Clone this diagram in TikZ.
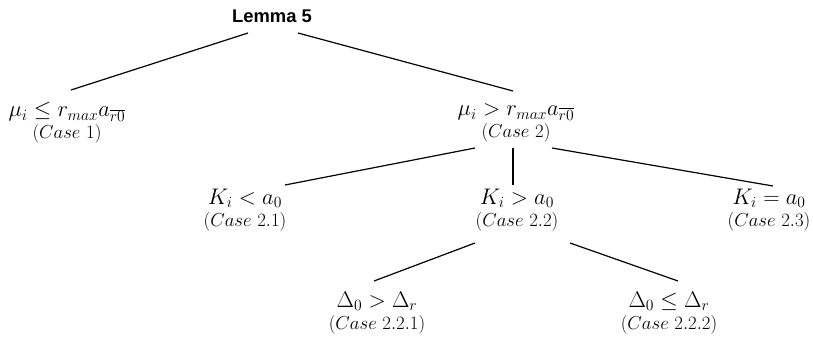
\documentclass[tikz,border=0pt]{standalone}
\usepackage{fontspec}
\newfontfamily\lemmafont{Liberation Sans}
\usetikzlibrary{calc}
\tikzset{
  casenode/.style={align=center, inner sep=0pt, font=\huge},
  edge/.style={line width=1.1pt},
}
\newcommand{\casetxt}[1]{{\LARGE$(#1)$}}
\begin{document}
\begin{tikzpicture}[x=0.92pt,y=-0.92pt]
\useasboundingbox (0,0) rectangle (813,337);
\node[inner sep=0pt, font=\lemmafont\bfseries\fontsize{16.9}{17}\selectfont] (lemma) at (272,16) {Lemma 5};
\node[casenode] (c1) at (67,123) {$\mu_i \le r_{max}a_{\overline{r0}}$\\[-5pt]\casetxt{Case\ 1}};
\node[casenode] (c2) at (516,123) {$\mu_i > r_{max}a_{\overline{r0}}$\\[-5pt]\casetxt{Case\ 2}};
\node[casenode] (c21) at (245,210) {$K_i < a_0$\\[-5pt]\casetxt{Case\ 2.1}};
\node[casenode] (c22) at (517,210) {$K_i > a_0$\\[-5pt]\casetxt{Case\ 2.2}};
\node[casenode] (c23) at (769,210) {$K_i = a_0$\\[-5pt]\casetxt{Case\ 2.3}};
\node[casenode] (c221) at (377,313) {$\Delta_0 > \Delta_r$\\[-5pt]\casetxt{Case\ 2.2.1}};
\node[casenode] (c222) at (669,313) {$\Delta_0 \le \Delta_r$\\[-5pt]\casetxt{Case\ 2.2.2}};
\draw[edge] ($(lemma.center)+(-24,17)$) -- ($(c1.center)+(4,-33)$);
\draw[edge] ($(lemma.center)+(26,17)$) -- ($(c2.center)+(-3,-32)$);
\draw[edge] ($(c2.center)+(-41,25)$) -- ($(c21.center)+(40,-25)$);
\draw[edge] ($(c2.center)+(-3,25)$) -- ($(c22.center)+(-4,-25)$);
\draw[edge] ($(c2.center)+(36,25)$) -- ($(c23.center)+(4,-24)$);
\draw[edge] ($(c22.center)+(-42,33)$) -- ($(c221.center)+(-3,-32)$);
\draw[edge] ($(c22.center)+(53,33)$) -- ($(c222.center)+(9,-32)$);
\end{tikzpicture}
\end{document}
